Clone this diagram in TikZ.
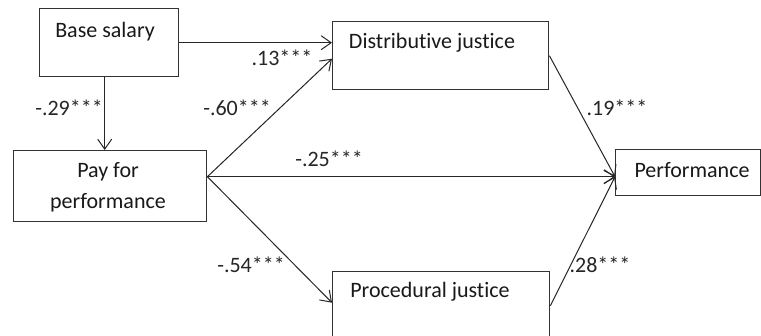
\documentclass[tikz,border=0pt]{standalone}
\usepackage{fontspec}
\setmainfont{Carlito}[Ligatures=NoCommon]
\usetikzlibrary{arrows.meta,calc}
\begin{document}
\begin{tikzpicture}[x=1pt,y=-1pt,
  box/.style={draw=black!80, line width=1.4pt, rectangle, inner sep=0pt, anchor=north west},
  txt/.style={inner sep=0pt, text=black!90, font=\fontsize{22}{26}\selectfont},
  lbl/.style={inner sep=0pt, text=black!85, font=\fontsize{22}{26}\selectfont},
  conn/.style={draw=black!85, line width=1pt, -{Straight Barb[length=10pt,width=14pt,line width=1pt]}}]
\clip (0,0) rectangle (761,335);
\fill[white] (0,0) rectangle (761,335);
% boxes
\node[box, minimum width=139pt, minimum height=68pt] (bs) at (39,8) {};
\node[box, minimum width=216pt, minimum height=68pt] (dj) at (332,21) {};
\node[box, minimum width=193pt, minimum height=71pt] (pay) at (13,150) {};
\node[box, minimum width=145pt, minimum height=46pt] (perf) at (615,149) {};
\node[box, minimum width=217pt, minimum height=68pt] (pj) at (332,271) {};
% texts
\node[txt] (tbs) at (105,32) {Base salary};
\node[txt] (tdj) at (432,43) {Distributive justice};
\node[txt] (tpay1) at (108,172) {Pay for};
\node[txt] (tpay2) at (108,203) {performance};
\node[txt] (tperf) at (692,170) {Performance};
\node[txt] (tpj) at (430,292) {Procedural justice};
% connection points
\coordinate (pe) at ($(pay.east)+(0,-9.5)$);
\coordinate (pw) at ($(perf.west)+(0,4)$);
\coordinate (bsd) at ($(bs.south)+(-4.5,0)$);
\coordinate (payu) at (bsd |- pay.north);
% connectors
\draw[conn] (bs.east) -- (bs.east -| dj.west);
\draw[conn] (bsd) -- (payu);
\draw[conn] (pe) -- ($(dj.west)+(0,3)$);
\draw[conn] (pe) -- (pw);
\draw[conn] (pe) -- ($(pj.west)+(0,-3)$);
\draw[conn] (dj.east) -- (pw);
\draw[conn] (pj.east) -- (pw);
% labels
\node[lbl] (l13) at (282,58) {.13***};
\node[lbl] (l29) at (69,108) {-.29***};
\node[lbl] (l60) at (237,108) {-.60***};
\node[lbl] (l25) at (329,159) {-.25***};
\node[lbl] (l19) at (617,108) {.19***};
\node[lbl] (l54) at (251,265) {-.54***};
\node[lbl] (l28) at (600,265) {.28***};
\end{tikzpicture}
\end{document}
